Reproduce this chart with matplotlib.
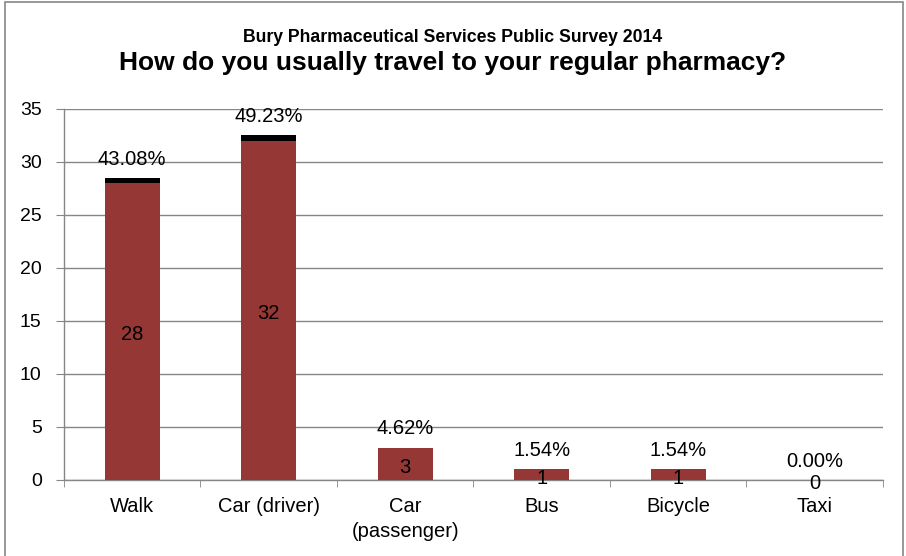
import matplotlib.pyplot as plt
from matplotlib.patches import Rectangle

# survey data
categories = ["Walk", "Car (driver)", "Car\n(passenger)", "Bus", "Bicycle", "Taxi"]
counts = [28, 32, 3, 1, 1, 0]
percents = [43.08, 49.23, 4.62, 1.54, 1.54, 0.00]

plt.rcParams["font.family"] = ["Liberation Sans", "DejaVu Sans"]

fig = plt.figure(figsize=(9.06, 5.56), dpi=100)
ax = fig.add_axes([0.0706, 0.1367, 0.904, 0.6678])

x = list(range(len(categories)))
share = [p / 100 for p in percents]

ax.bar(x, counts, width=0.4, color="#953735", zorder=3)
ax.bar(x, share, width=0.4, bottom=counts, color="black", zorder=3)

# count labels in the middle of the red bars
for xi, c in zip(x, counts):
    ax.annotate(str(c), (xi, c / 2), xytext=(0, -2.5), textcoords="offset points",
                ha="center", va="center", fontsize=14.5, zorder=4)

# percentage labels above the stacks
for xi, c, s, p in zip(x, counts, share, percents):
    ax.annotate(f"{p:.2f}%", (xi, c + s), xytext=(0, 13.5), textcoords="offset points",
                ha="center", va="center", fontsize=14.5, zorder=4)

ax.set_xlim(-0.5, len(categories) - 0.5)
ax.set_ylim(0, 35)
ax.set_yticks(range(0, 36, 5))
ax.set_xticks(x)
ax.set_xticklabels(categories, fontsize=14.5, linespacing=1.4)
ax.set_xticks([i - 0.5 for i in range(len(categories) + 1)], minor=True)
ax.tick_params(axis="x", which="major", length=0, pad=12)
ax.tick_params(axis="x", which="minor", length=5, color="#868686", direction="out")
ax.tick_params(axis="y", length=6, color="#868686", labelsize=14, pad=10)

ax.grid(axis="y", color="#868686", linewidth=1, zorder=0)
ax.set_axisbelow(True)
for side in ["top", "right"]:
    ax.spines[side].set_visible(False)
for side in ["left", "bottom"]:
    ax.spines[side].set_color("#868686")
    ax.spines[side].set_linewidth(1)

fig.text(0.5, 0.933, "Bury Pharmaceutical Services Public Survey 2014",
         ha="center", va="center", fontsize=12.7, fontweight="bold")
fig.text(0.5, 0.887, "How do you usually travel to your regular pharmacy?",
         ha="center", va="center", fontsize=19, fontweight="bold")

# outer chart border
fig.patches.append(Rectangle((5 / 906, -0.05), 898 / 906, 1.05 - 2 / 556,
                             transform=fig.transFigure, fill=False,
                             edgecolor="#868686", linewidth=1.2))

fig.savefig("out.png", dpi=100)
